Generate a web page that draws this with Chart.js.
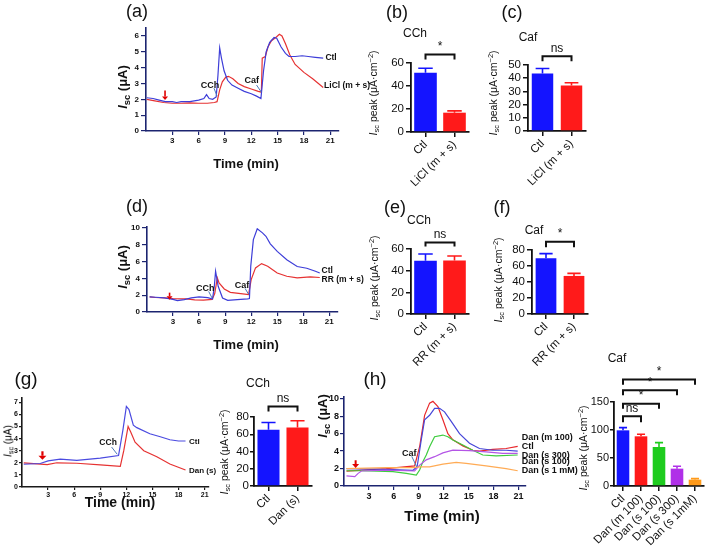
<!DOCTYPE html>
<html><head><meta charset="utf-8">
<script src="https://cdn.jsdelivr.net/npm/chart.js@4.4.1/dist/chart.umd.min.js"></script>
<style>
html,body{margin:0;padding:0;background:#fff}
body{width:709px;height:548px;position:relative;overflow:hidden;font-family:"Liberation Sans",Arial,Helvetica,sans-serif}
canvas{position:absolute;left:0;top:0}
.t{position:absolute;white-space:nowrap;transform:translate(-50%,-50%);color:#111;line-height:1;z-index:5}
.rot{transform:translate(-50%,-50%) rotate(-90deg)}
.t sub{font-size:72%;vertical-align:-0.28em}
.t sup{font-size:70%;vertical-align:0.5em}
.pl{font-size:18px}
.bt{font-size:12px}
.yt{font-size:10.5px}
.lt{font-weight:bold;font-size:13px}
</style></head><body>
<div class="t pl" style="left:137px;top:11px">(a)</div>
<div class="t pl" style="left:397px;top:12px">(b)</div>
<div class="t pl" style="left:512px;top:12px">(c)</div>
<div class="t pl" style="left:137px;top:206px">(d)</div>
<div class="t pl" style="left:395px;top:207px">(e)</div>
<div class="t pl" style="left:502px;top:207px">(f)</div>
<div class="t pl" style="left:26px;top:378px;font-size:19px">(g)</div>
<div class="t pl" style="left:375px;top:378px;font-size:19px">(h)</div>

<div class="t bt" style="left:415px;top:33px">CCh</div>
<div class="t bt" style="left:528px;top:37px">Caf</div>
<div class="t bt" style="left:419px;top:220px">CCh</div>
<div class="t bt" style="left:534px;top:230px">Caf</div>
<div class="t bt" style="left:258px;top:383px">CCh</div>
<div class="t bt" style="left:617px;top:358px">Caf</div>

<div class="t lt" style="left:246px;top:163px">Time (min)</div>
<div class="t lt" style="left:246px;top:344px">Time (min)</div>
<div class="t lt" style="left:120px;top:502px;font-size:14px">Time (min)</div>
<div class="t lt" style="left:442px;top:515px;font-size:15px">Time (min)</div>

<div class="t rot lt" style="left:124px;top:87px"><i>I</i><sub>sc</sub> (μA)</div>
<div class="t rot lt" style="left:124px;top:267px"><i>I</i><sub>sc</sub> (μA)</div>
<div class="t rot" style="left:9px;top:441px;font-size:10px;color:#000"><i>I</i><sub>sc</sub> (μA)</div>
<div class="t rot lt" style="left:324px;top:416px;font-size:13px"><i>I</i><sub>sc</sub> (μA)</div>

<div class="t rot yt" style="left:374px;top:93px"><i>I</i><sub>sc</sub> peak (μA·cm<sup>−2</sup>)</div>
<div class="t rot yt" style="left:494px;top:93px"><i>I</i><sub>sc</sub> peak (μA·cm<sup>−2</sup>)</div>
<div class="t rot yt" style="left:375px;top:278px"><i>I</i><sub>sc</sub> peak (μA·cm<sup>−2</sup>)</div>
<div class="t rot yt" style="left:499px;top:280px"><i>I</i><sub>sc</sub> peak (μA·cm<sup>−2</sup>)</div>
<div class="t rot yt" style="left:225px;top:452px"><i>I</i><sub>sc</sub> peak (μA·cm<sup>−2</sup>)</div>
<div class="t rot yt" style="left:584px;top:448px"><i>I</i><sub>sc</sub> peak (μA·cm<sup>−2</sup>)</div>

<script>
Chart.defaults.font.family = '"Liberation Sans", Arial, sans-serif';
Chart.defaults.color = '#111';

// ================= DATA =================
const lineXTicks = [3, 6, 9, 12, 15, 18, 21];

// (a) CCh / Caf traces, Ctl vs LiCl (m + s)
const aYTicks = [0, 1, 2, 3, 4, 5, 6];
const aCtlT = [0.1,0.8,1.5,2.2,3,3.5,4,5,6,6.6,6.9,7.2,7.6,8.0,8.2,8.4,8.6,8.9,9.3,9.8,10.5,11.2,12,12.6,13.1,13.4,13.7,14.1,14.6,14.9,15.4,15.9,16.3,17,17.8,18.5,19.3,20.2];
const aCtlV = [2.1,2.05,1.95,1.85,1.85,1.8,1.85,1.85,1.95,2.05,2.3,2.05,2.0,2.15,3.5,5.25,4.6,3.8,3.2,2.9,2.7,2.5,2.35,2.2,2.05,3.8,5.0,5.6,5.9,5.85,5.3,4.9,4.7,4.7,4.75,4.7,4.65,4.6];
const aLiT = [0.1,1,2,3,4,5,6,7,7.8,8.1,8.4,8.7,9.1,9.4,9.9,10.5,11.2,12,12.8,13.15,13.25,13.6,13.9,14.3,14.8,15.2,15.5,15.9,16.4,17,18,19,20.2];
const aLiV = [2.0,1.9,1.8,1.75,1.75,1.78,1.75,1.75,1.8,1.85,2.6,3.1,3.4,3.45,3.3,3.0,2.8,2.65,2.5,2.45,4.6,4.7,5.3,5.7,5.9,6.1,6.0,5.5,4.8,4.2,3.7,3.3,2.75];

// (d) Ctl vs RR (m + s)
const dYTicks = [0, 2, 4, 6, 8, 10];
const dCtlT = [0.3,1,2,3,3.5,4.3,5.1,6,7,7.55,7.75,7.9,8.2,8.7,9.3,10.4,11.6,11.8,11.95,12.25,12.7,13.3,13.7,14.2,15,16.1,17.3,18.4,19.4,19.9];
const dCtlV = [1.8,1.75,1.67,1.5,1.35,1.47,1.67,1.79,1.7,1.55,3.0,4.84,3.05,1.67,1.39,1.47,1.55,1.6,5.44,8.6,9.88,9.4,9.0,8.1,7.2,6.2,5.4,5.2,4.84,4.64];
const dRRT = [0.3,1,2,3,4.5,5.5,6.5,7.5,7.8,8.1,8.3,8.9,9.6,10.8,11.7,12.0,12.5,13.2,13.9,15,16.1,17.3,18.8,19.9];
const dRRV = [1.8,1.72,1.67,1.6,1.55,1.45,1.42,1.5,2.2,4.05,3.45,2.74,2.34,2.18,2.06,3.85,5.24,5.75,5.44,4.64,4.25,4.05,4.17,4.1];

// (g) Ctl vs Dan (s), CCh
const gYTicks = [0, 1, 2, 3, 4, 5, 6, 7];
const gCtlT = [0.2,2.1,3,4.4,6.3,9,11.1,11.6,12,12.3,12.8,13.2,14.7,15.9,17,18,18.8];
const gCtlV = [1.88,1.94,2.16,2.3,2.2,2.38,2.6,4.7,6.65,6.4,5.1,4.9,4.4,4.15,3.9,3.8,3.8];
const gDanT = [0.2,2.9,4,6.3,9,11.3,11.7,12.2,12.5,13,14,15.5,17,18.8];
const gDanV = [2.0,1.85,2.0,1.96,1.83,1.7,3.0,5.0,4.55,3.7,3.0,2.5,1.9,1.4];

// (h) Caf traces
const hYTicks = [0, 2, 4, 6, 8, 10];
const hM100T = [0.3,2.3,5.1,8.5,9.1,9.7,10.3,10.7,11.3,11.9,12.5,13.1,14.3,15.5,16.3,17.9,19.5,20.9];
const hM100V = [1.7,1.83,2.0,2.3,4.5,8.1,9.5,9.7,9.1,7.6,6.0,5.3,4.6,4.1,4.0,4.2,4.3,4.55];
const hCtlT = [0.3,5.1,8.3,8.8,9.3,9.7,10.3,10.9,11.5,12.1,12.9,13.9,15.1,16.3,17.9,19.5,20.9];
const hCtlV = [2.0,1.9,1.8,2.2,5.3,7.6,8.1,8.9,8.9,8.5,7.4,6.0,4.9,4.3,4.1,4.1,4.0];
const hS100T = [0.3,2.1,5.9,7.5,8.7,9.1,9.5,9.9,10.3,10.9,11.9,12.5,13.1,14.3,15.5,16.7,18.3,20.9];
const hS100V = [1.75,1.75,1.64,1.45,1.26,1.83,2.8,3.55,4.5,5.65,5.84,5.65,5.27,4.7,4.1,3.55,3.45,3.55];
const hS300T = [0.3,1.3,1.7,2.1,5.1,8.5,9.1,9.9,10.9,11.9,13.1,15.1,17.1,19.1,20.9];
const hS300V = [1.15,1.07,1.45,1.72,1.83,1.72,2.4,3.0,3.36,3.8,4.1,4.05,3.9,3.75,3.75];
const hS1T = [0.3,5.1,8.3,9.1,10.3,11.9,13.5,14.7,17.1,19.5,20.9];
const hS1V = [2.0,2.1,2.1,2.2,2.2,2.5,2.7,2.6,2.3,2.0,1.75];

// bar panels
const bCats = ['Ctl', 'LiCl (m + s)'];
const bMean = [51.5, 16.8];  const bErr = [4.0, 1.6];  const bYTicks = [0, 20, 40, 60];
const cMean = [43.6, 34.4];  const cErr = [3.8, 2.1];  const cYTicks = [0, 10, 20, 30, 40, 50];
const eCats = ['Ctl', 'RR (m + s)'];
const eMean = [49.2, 49.5];  const eErr = [6.2, 4.1];  const eYTicks = [0, 20, 40, 60];
const fMean = [69.7, 47.6];  const fErr = [5.8, 3.2];  const fYTicks = [0, 20, 40, 60, 80];
const gCats = ['Ctl', 'Dan (s)'];
const gMean = [65.2, 67.9];  const gErr = [8.5, 7.8];  const gbYTicks = [0, 20, 40, 60, 80];
const hCats = ['Ctl', 'Dan (m 100)', 'Dan (s 100)', 'Dan (s 300)', 'Dan (s 1mM)'];
const hMean = [99.4, 88.7, 69.6, 31.0, 11.3];  const hErr = [4.8, 3.6, 7.9, 4.2, 1.9];
const hbYTicks = [0, 50, 100, 150];

// ================= DRAWING =================
const W = 709, H = 548;
const FONT = '"Liberation Sans", Arial, sans-serif';
function addCanvas(){ const c = document.createElement('canvas'); c.width = W; c.height = H; document.body.appendChild(c); return c; }

function notesPlugin(notes){
  return { id: 'notes', afterDraw(chart){
    const ctx = chart.ctx, xs = chart.scales.x, ys = chart.scales.y;
    const px = v => xs.getPixelForValue(v), py = v => ys.getPixelForValue(v);
    ctx.save();
    for (const n of notes){
      if (n.type === 'text'){
        ctx.font = n.font; ctx.fillStyle = n.color || '#111'; ctx.textAlign = n.align || 'left'; ctx.textBaseline = 'middle';
        ctx.fillText(n.text, px(n.x), py(n.y));
      } else if (n.type === 'line'){
        ctx.strokeStyle = n.color; ctx.lineWidth = n.w || 1; ctx.beginPath();
        ctx.moveTo(px(n.x1), py(n.y1)); ctx.lineTo(px(n.x2), py(n.y2)); ctx.stroke();
      } else if (n.type === 'arrow'){
        const x = px(n.x), y1 = py(n.y1), y2 = py(n.y2);
        ctx.strokeStyle = n.color; ctx.fillStyle = n.color; ctx.lineWidth = n.w || 1.6;
        ctx.beginPath(); ctx.moveTo(x, y1); ctx.lineTo(x, y2 - n.h); ctx.stroke();
        ctx.beginPath(); ctx.moveTo(x - n.hw, y2 - n.h); ctx.lineTo(x + n.hw, y2 - n.h); ctx.lineTo(x, y2); ctx.closePath(); ctx.fill();
      }
    }
    ctx.restore();
  }};
}

function lineChart(o){
  const c = addCanvas(); const yW = 30, xH = 20;
  const ax = o.axis;
  new Chart(c, { type: 'line',
    data: { datasets: o.series.map(s => ({ data: s.t.map((t, i) => ({ x: t, y: s.v[i] })), borderColor: s.color, borderWidth: o.lw || 1.2, pointRadius: 0, tension: 0, fill: false })) },
    options: { responsive: false, animation: false, devicePixelRatio: 1,
      layout: { padding: { left: o.l - yW, top: o.t, right: W - o.r, bottom: H - o.b - xH } },
      plugins: { legend: { display: false }, tooltip: { enabled: false } },
      scales: {
        x: { type: 'linear', min: 0, max: o.xMax,
             afterFit: s => { s.height = xH; },
             afterBuildTicks: s => { s.ticks = lineXTicks.map(v => ({ value: v })); },
             grid: { drawOnChartArea: false, drawTicks: true, tickLength: o.tl || 4, color: ax, lineWidth: 1.2 },
             border: { color: ax, width: 1.6 },
             ticks: { font: o.tf, color: '#111', padding: 1, maxRotation: 0, autoSkip: false } },
        y: { min: 0, max: o.yMax,
             afterFit: s => { s.width = yW; },
             afterBuildTicks: s => { s.ticks = o.yTicks.map(v => ({ value: v })); },
             grid: { drawOnChartArea: false, drawTicks: true, tickLength: o.tl || 5, color: ax, lineWidth: 1.2 },
             border: { color: ax, width: 1.6 },
             ticks: { font: o.tf, color: '#111', padding: o.tp === undefined ? 2 : o.tp, autoSkip: false } }
      } },
    plugins: [notesPlugin(o.notes || [])] });
}

function errPlugin(err, colors){
  return { id: 'err', afterDatasetsDraw(chart){
    const meta = chart.getDatasetMeta(0), ys = chart.scales.y, ctx = chart.ctx, d = chart.data.datasets[0].data;
    ctx.save();
    meta.data.forEach((el, i) => {
      const top = ys.getPixelForValue(d[i] + err[i]); const cw = el.width * 0.32;
      ctx.strokeStyle = colors[i]; ctx.lineWidth = 1.6; ctx.beginPath();
      ctx.moveTo(el.x, el.y); ctx.lineTo(el.x, top); ctx.moveTo(el.x - cw, top); ctx.lineTo(el.x + cw, top); ctx.stroke();
    });
    ctx.restore();
  }};
}
function bracketPlugin(list){
  return { id: 'br', afterDraw(chart){
    const xs = chart.scales.x, ys = chart.scales.y, ctx = chart.ctx;
    ctx.save(); ctx.strokeStyle = '#111'; ctx.fillStyle = '#111'; ctx.lineWidth = 2;
    ctx.font = '12px ' + FONT; ctx.textAlign = 'center'; ctx.textBaseline = 'bottom';
    for (const b of list){
      const x1 = xs.getPixelForValue(b.a), x2 = xs.getPixelForValue(b.b), y = ys.getPixelForValue(b.y), yl = ys.getPixelForValue(b.leg);
      ctx.beginPath(); ctx.moveTo(x1, yl); ctx.lineTo(x1, y); ctx.lineTo(x2, y); ctx.lineTo(x2, yl); ctx.stroke();
      ctx.fillText(b.text, (x1 + x2) / 2, y - 2);
    }
    ctx.restore();
  }};
}

function barChart(o){
  const c = addCanvas(); const yW = 45, xH = 70;
  new Chart(c, { type: 'bar',
    data: { labels: o.cats, datasets: [{ data: o.mean, backgroundColor: o.colors, borderWidth: 0, barPercentage: o.bp, categoryPercentage: 1 }] },
    options: { responsive: false, animation: false, devicePixelRatio: 1,
      layout: { padding: { left: o.l - yW, top: o.t, right: W - o.r, bottom: H - o.b - xH } },
      plugins: { legend: { display: false }, tooltip: { enabled: false } },
      scales: {
        x: { afterFit: s => { s.height = xH; },
             grid: { offset: false, drawOnChartArea: false, drawTicks: true, tickLength: 5, color: '#111', lineWidth: 1.5 },
             border: { color: '#111', width: 1.8 },
             ticks: { font: { size: 11.5 }, color: '#111', minRotation: 45, maxRotation: 45, autoSkip: false, padding: 1 } },
        y: { min: 0, max: o.yMax,
             afterFit: s => { s.width = yW; },
             afterBuildTicks: s => { s.ticks = o.yTicks.map(v => ({ value: v })); },
             grid: { drawOnChartArea: false, drawTicks: true, tickLength: o.ytl || 5, color: '#111', lineWidth: 1.5 },
             border: { color: '#111', width: 1.8 },
             ticks: { font: { size: o.yfs || 11.5 }, color: '#111', padding: o.ytp === undefined ? 2 : o.ytp, autoSkip: false } }
      } },
    plugins: [errPlugin(o.err, o.colors), bracketPlugin(o.brackets)] });
}

const NAVY = '#1c2470';
const BL = '#3d3dd8', RD = '#e63232', LEAD = '#4a78b8';
const bf8 = 'bold 8.5px ' + FONT, bf9 = 'bold 9px ' + FONT;

// (a)
lineChart({ l: 146, t: 28, r: 339, b: 131, xMax: 22, yMax: 6.5, yTicks: aYTicks, axis: NAVY,
  tf: { size: 8, weight: 'bold' },
  series: [{ t: aCtlT, v: aCtlV, color: BL }, { t: aLiT, v: aLiV, color: RD }],
  notes: [
    { type: 'text', x: 20.45, y: 4.65, text: 'Ctl', font: bf8 },
    { type: 'text', x: 20.3, y: 2.85, text: 'LiCl (m + s)', font: bf8 },
    { type: 'text', x: 7.3, y: 2.9, text: 'CCh', font: bf9, align: 'center' },
    { type: 'line', x1: 7.75, y1: 2.7, x2: 8.1, y2: 2.2, color: LEAD },
    { type: 'text', x: 12.05, y: 3.2, text: 'Caf', font: bf9, align: 'center' },
    { type: 'line', x1: 12.6, y1: 2.9, x2: 13.15, y2: 2.45, color: LEAD },
    { type: 'arrow', x: 2.17, y1: 2.55, y2: 1.95, color: '#e00000', h: 3.5, hw: 3 }
  ] });

// (d)
lineChart({ l: 147, t: 227, r: 338, b: 312, xMax: 22, yMax: 10.1, yTicks: dYTicks, axis: NAVY,
  tf: { size: 8, weight: 'bold' },
  series: [{ t: dCtlT, v: dCtlV, color: BL }, { t: dRRT, v: dRRV, color: RD }],
  notes: [
    { type: 'text', x: 20.1, y: 4.95, text: 'Ctl', font: bf8 },
    { type: 'text', x: 20.1, y: 3.9, text: 'RR (m + s)', font: bf8 },
    { type: 'text', x: 6.7, y: 2.8, text: 'CCh', font: bf9, align: 'center' },
    { type: 'line', x1: 7.1, y1: 2.45, x2: 7.5, y2: 1.65, color: LEAD },
    { type: 'text', x: 10.95, y: 3.2, text: 'Caf', font: bf9, align: 'center' },
    { type: 'line', x1: 11.3, y1: 2.8, x2: 11.7, y2: 2.1, color: LEAD },
    { type: 'arrow', x: 2.6, y1: 2.3, y2: 1.45, color: '#e00000', h: 3.5, hw: 3 }
  ] });

// (g)
lineChart({ l: 22, t: 398, r: 209, b: 487, xMax: 21.5, yMax: 7.35, yTicks: gYTicks, axis: '#1a1a1a',
  tf: { size: 7, weight: 'bold' }, tl: 3, tp: 1,
  series: [{ t: gCtlT, v: gCtlV, color: '#4a4ae0' }, { t: gDanT, v: gDanV, color: RD }],
  notes: [
    { type: 'text', x: 19.2, y: 3.75, text: 'Ctl', font: 'bold 8px ' + FONT },
    { type: 'text', x: 19.2, y: 1.3, text: 'Dan (s)', font: 'bold 8px ' + FONT },
    { type: 'text', x: 9.9, y: 3.66, text: 'CCh', font: 'bold 8.5px ' + FONT, align: 'center' },
    { type: 'line', x1: 10.3, y1: 3.3, x2: 10.95, y2: 2.7, color: LEAD },
    { type: 'arrow', x: 2.35, y1: 2.95, y2: 2.25, color: '#e00000', w: 2.2, h: 4, hw: 4 }
  ] });

// (h)
lineChart({ l: 344, t: 397, r: 526, b: 486, xMax: 21.9, yMax: 10.2, yTicks: hYTicks, axis: NAVY,
  tf: { size: 9, weight: 'bold' }, tl: 4, tp: 1,
  series: [
    { t: hS1T, v: hS1V, color: '#ffab55' },
    { t: hS300T, v: hS300V, color: '#b455e6' },
    { t: hS100T, v: hS100V, color: '#3fcc3f' },
    { t: hCtlT, v: hCtlV, color: '#4646d8' },
    { t: hM100T, v: hM100V, color: '#e8282c' }
  ],
  notes: [
    { type: 'text', x: 21.4, y: 5.5, text: 'Dan (m 100)', font: bf9 },
    { type: 'text', x: 21.4, y: 4.5, text: 'Ctl', font: bf9 },
    { type: 'text', x: 21.4, y: 3.55, text: 'Dan (s 300)', font: bf9 },
    { type: 'text', x: 21.4, y: 2.85, text: 'Dan (s 100)', font: bf9 },
    { type: 'text', x: 21.4, y: 1.8, text: 'Dan (s 1 mM)', font: bf9 },
    { type: 'text', x: 7.86, y: 3.75, text: 'Caf', font: bf9, align: 'center' },
    { type: 'line', x1: 8.15, y1: 3.4, x2: 8.75, y2: 2.2, color: LEAD },
    { type: 'arrow', x: 1.4, y1: 2.95, y2: 2.05, color: '#e00000', w: 2, h: 4, hw: 3.5 }
  ] });

const BLUE = '#1414ff', RED = '#ff1a1a';
// (b)
barChart({ l: 411, t: 63, r: 469, b: 132, cats: bCats, mean: bMean, err: bErr, colors: [BLUE, RED], bp: 0.78,
  yMax: 60, yTicks: bYTicks, brackets: [{ a: 0, b: 1, y: 67.3, leg: 63, text: '*' }] });
// (c)
barChart({ l: 528, t: 65, r: 586, b: 131, cats: bCats, mean: cMean, err: cErr, colors: [BLUE, RED], bp: 0.74,
  yMax: 50, yTicks: cYTicks, brackets: [{ a: 0, b: 1, y: 56.6, leg: 52.8, text: 'ns' }] });
// (e)
barChart({ l: 411, t: 249, r: 469, b: 314, cats: eCats, mean: eMean, err: eErr, colors: [BLUE, RED], bp: 0.78,
  yMax: 60, yTicks: eYTicks, brackets: [{ a: 0, b: 1, y: 66, leg: 62.4, text: 'ns' }] });
// (f)
barChart({ l: 532, t: 250, r: 588, b: 314, cats: eCats, mean: fMean, err: fErr, colors: [BLUE, RED], bp: 0.74,
  yMax: 80, yTicks: fYTicks, brackets: [{ a: 0, b: 1, y: 90.3, leg: 83.3, text: '*' }] });
// (g) bar
barChart({ l: 254, t: 417, r: 312, b: 486, cats: gCats, mean: gMean, err: gErr, colors: [BLUE, RED], bp: 0.76,
  yMax: 80, yTicks: gbYTicks, ytl: 4, ytp: 1, brackets: [{ a: 0, b: 1, y: 92.3, leg: 86.5, text: 'ns' }] });
// (h) bar
barChart({ l: 614, t: 402, r: 704, b: 486, cats: hCats, mean: hMean, err: hErr,
  colors: [BLUE, RED, '#1ecc1e', '#b030e8', '#ff9a1a'], bp: 0.7, ytl: 4, ytp: 1, yfs: 11,
  yMax: 150, yTicks: hbYTicks, brackets: [
    { a: 0, b: 1, y: 124.5, leg: 114, text: 'ns' },
    { a: 0, b: 2, y: 147, leg: 138, text: '*' },
    { a: 0, b: 3, y: 171, leg: 162, text: '*' },
    { a: 0, b: 4, y: 190, leg: 181, text: '*' }
  ] });
</script>
</body></html>
